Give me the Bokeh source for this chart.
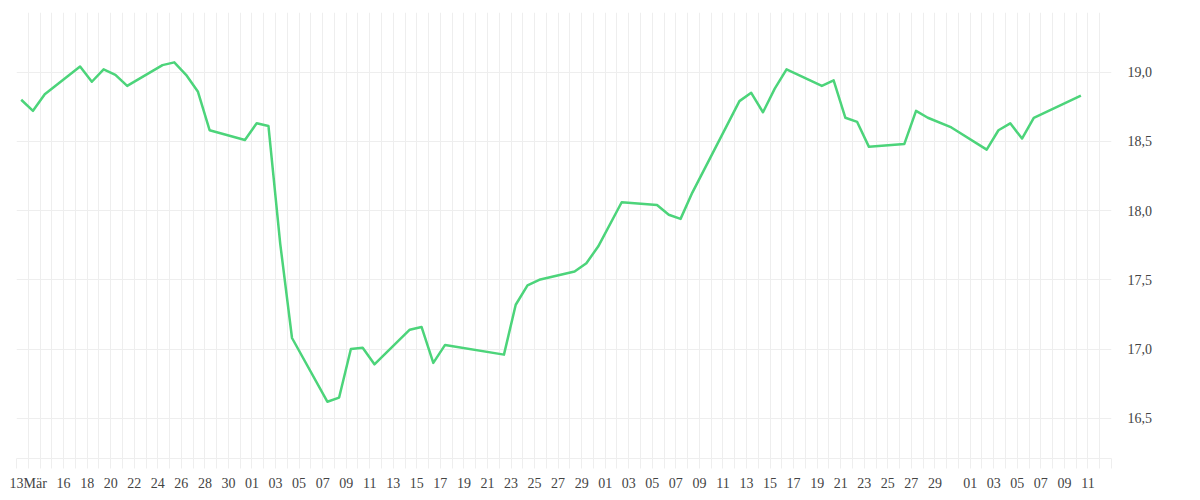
import pandas as pd
from bokeh.plotting import figure
from bokeh.models import FixedTicker, Range1d
from bokeh.embed import file_html
from bokeh.resources import INLINE

# ---- data -------------------------------------------------------------
dates = [
    "2025-03-12", "2025-03-13", "2025-03-14", "2025-03-17", "2025-03-18",
    "2025-03-19", "2025-03-20", "2025-03-21", "2025-03-24", "2025-03-25",
    "2025-03-26", "2025-03-27", "2025-03-28", "2025-03-31", "2025-04-01",
    "2025-04-02", "2025-04-03", "2025-04-04", "2025-04-07", "2025-04-08",
    "2025-04-09", "2025-04-10", "2025-04-11", "2025-04-14", "2025-04-15",
    "2025-04-16", "2025-04-17", "2025-04-22", "2025-04-23", "2025-04-24",
    "2025-04-25", "2025-04-28", "2025-04-29", "2025-04-30", "2025-05-02",
    "2025-05-05", "2025-05-06", "2025-05-07", "2025-05-08", "2025-05-12",
    "2025-05-13", "2025-05-14", "2025-05-15", "2025-05-16", "2025-05-19",
    "2025-05-20", "2025-05-21", "2025-05-22", "2025-05-23", "2025-05-26",
    "2025-05-27", "2025-05-28", "2025-05-30", "2025-06-02", "2025-06-03",
    "2025-06-04", "2025-06-05", "2025-06-06", "2025-06-10",
]
values = [
    18.80, 18.72, 18.84, 19.04, 18.93,
    19.02, 18.98, 18.90, 19.05, 19.07,
    18.98, 18.86, 18.58, 18.51, 18.63,
    18.61, 17.76, 17.08, 16.62, 16.65,
    17.00, 17.01, 16.89, 17.14, 17.16,
    16.90, 17.03, 16.96, 17.32, 17.46,
    17.50, 17.56, 17.62, 17.74, 18.06,
    18.04, 17.97, 17.94, 18.13, 18.79,
    18.85, 18.71, 18.88, 19.02, 18.90,
    18.94, 18.67, 18.64, 18.46, 18.48,
    18.72, 18.67, 18.60, 18.44, 18.58,
    18.63, 18.52, 18.67, 18.83,
]

x_start = "2025-03-12"
x_end = "2025-06-13"

x_label_dates = [
    "2025-03-13", "2025-03-16", "2025-03-18", "2025-03-20", "2025-03-22",
    "2025-03-24", "2025-03-26", "2025-03-28", "2025-03-30",
    "2025-04-01", "2025-04-03", "2025-04-05", "2025-04-07", "2025-04-09",
    "2025-04-11", "2025-04-13", "2025-04-15", "2025-04-17", "2025-04-19",
    "2025-04-21", "2025-04-23", "2025-04-25", "2025-04-27", "2025-04-29",
    "2025-05-01", "2025-05-03", "2025-05-05", "2025-05-07", "2025-05-09",
    "2025-05-11", "2025-05-13", "2025-05-15", "2025-05-17", "2025-05-19",
    "2025-05-21", "2025-05-23", "2025-05-25", "2025-05-27", "2025-05-29",
    "2025-06-01", "2025-06-03", "2025-06-05", "2025-06-07", "2025-06-09",
    "2025-06-11",
]
x_label_texts = [
    "13Mär", "16", "18", "20", "22", "24", "26", "28", "30",
    "01", "03", "05", "07", "09", "11", "13", "15", "17", "19",
    "21", "23", "25", "27", "29",
    "01", "03", "05", "07", "09", "11", "13", "15", "17", "19",
    "21", "23", "25", "27", "29",
    "01", "03", "05", "07", "09", "11",
]

y_ticks = [16.5, 17.0, 17.5, 18.0, 18.5, 19.0]
y_tick_labels = ["16,5", "17,0", "17,5", "18,0", "18,5", "19,0"]

y_min, y_max = 16.21, 19.43

# ---- helpers ----------------------------------------------------------
def ms(d):
    return int(pd.Timestamp(d).value // 10**6)

SAMPLE_TIME = pd.Timedelta(hours=9.6)   # time of day of each quote
x_vals = pd.to_datetime(dates) + SAMPLE_TIME

day_ticks = [ms(d) for d in pd.date_range(x_start, x_end, freq="D")]
label_map = {ms(d): t for d, t in zip(x_label_dates, x_label_texts)}
x_overrides = {t: label_map.get(t, "") for t in day_ticks}

GRID = "#eeeeee"
TEXT = "#444444"
FONT = "Liberation Serif"

# ---- figure -----------------------------------------------------------
p = figure(
    width=1196, height=496,
    x_axis_type="datetime", y_axis_location="right",
    x_range=Range1d(ms(x_start), ms(x_end)),
    y_range=Range1d(y_min, y_max),
    output_backend="svg", toolbar_location=None,
    min_border_left=16, min_border_right=85,
    min_border_top=12, min_border_bottom=38,
)
p.outline_line_color = None
p.background_fill_color = "white"
p.border_fill_color = "white"

p.line(x_vals, values, line_color="#4cd47a", line_width=2.5, line_join="round")

# x axis
p.xaxis.ticker = FixedTicker(ticks=day_ticks)
p.xaxis.major_label_overrides = x_overrides
p.xaxis.axis_line_color = GRID
p.xaxis.major_tick_line_color = GRID
p.xaxis.major_tick_out = 10
p.xaxis.major_tick_in = 0
p.xaxis.minor_tick_line_color = None
p.xaxis.major_label_standoff = 7
p.xaxis.major_label_text_font = FONT
p.xaxis.major_label_text_font_size = "14px"
p.xaxis.major_label_text_color = TEXT

# y axis
p.yaxis.ticker = FixedTicker(ticks=y_ticks)
p.yaxis.major_label_overrides = dict(zip(y_ticks, y_tick_labels))
p.yaxis.axis_line_color = None
p.yaxis.major_tick_line_color = None
p.yaxis.minor_tick_line_color = None
p.yaxis.major_tick_out = 0
p.yaxis.major_tick_in = 0
p.yaxis.major_label_standoff = 16
p.yaxis.major_label_text_font = FONT
p.yaxis.major_label_text_font_size = "14px"
p.yaxis.major_label_text_color = TEXT

# grids
p.xgrid.ticker = FixedTicker(ticks=day_ticks)
p.xgrid.grid_line_color = GRID
p.xgrid.grid_line_width = 1
p.ygrid.ticker = FixedTicker(ticks=y_ticks)
p.ygrid.grid_line_color = GRID
p.ygrid.grid_line_width = 1

open("out.html", "w").write(file_html(p, INLINE))
